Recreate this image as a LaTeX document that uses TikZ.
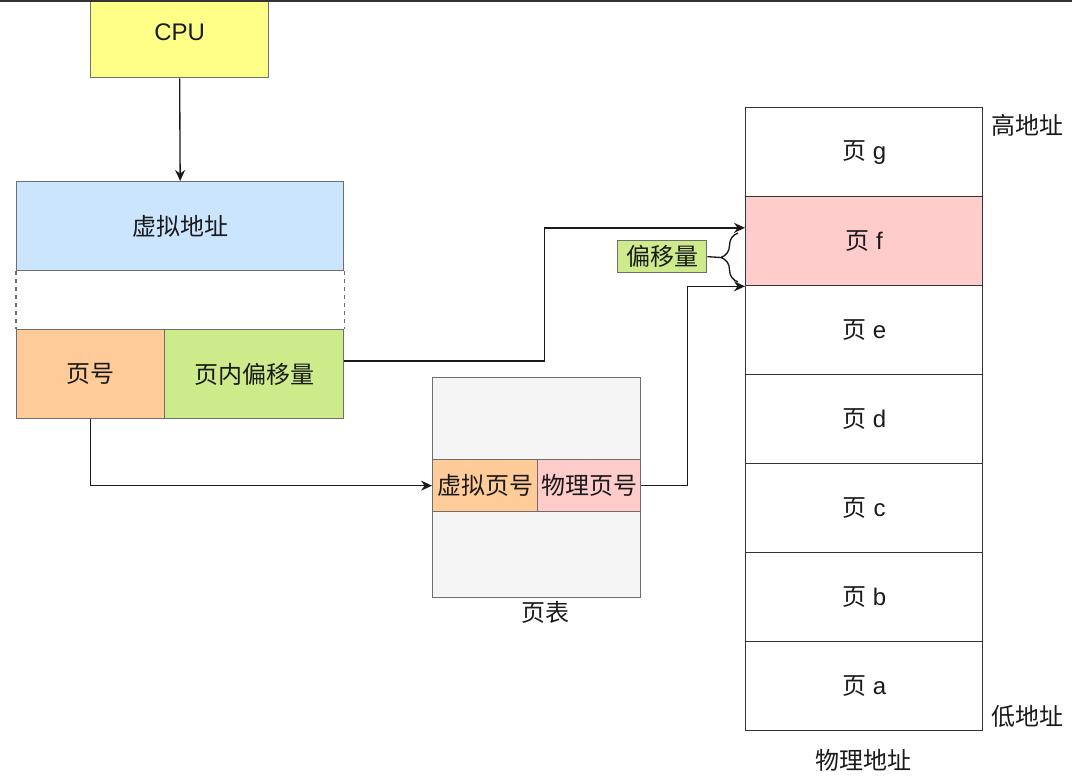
\documentclass[tikz,border=0pt]{standalone}
\usepackage{fontspec}
\setmainfont{Liberation Sans}
\newfontfamily\cjk{Noto Sans CJK SC}
\usetikzlibrary{arrows.meta,decorations.pathreplacing}
\definecolor{cpuy}{HTML}{FFFF88}
\definecolor{vablue}{HTML}{CCE5FF}
\definecolor{orng}{HTML}{FFCC99}
\definecolor{grn}{HTML}{CDEB8B}
\definecolor{pnk}{HTML}{FFCCCC}
\definecolor{ptgray}{HTML}{F5F5F5}
\definecolor{bdlight}{HTML}{6E6E6E}
\definecolor{bddark}{HTML}{333333}
\definecolor{txt}{HTML}{1A1A1A}
\begin{document}
\begin{tikzpicture}[x=0.75pt,y=-0.75pt,
  box/.style={draw=bdlight, line width=1pt, inner sep=0pt, anchor=north west,
    font=\fontsize{18}{22}\selectfont, text=txt},
  membox/.style={box, draw=bddark, fill=white, minimum width=177.75pt, minimum height=66.75pt},
  lbl/.style={inner sep=0pt, font=\fontsize{18}{22}\selectfont\cjk, text=txt},
  arr/.style={draw=txt, line width=1pt, -{Stealth[length=8.25pt,width=7.5pt]}},
  conn/.style={draw=txt, line width=1pt}
]
\useasboundingbox (0,0) rectangle (1072,778);

% CPU
\node[box, fill=cpuy, minimum width=133.5pt, minimum height=67.5pt] (cpu) at (90,-13) {CPU};
\draw[line width=2pt, color=bddark] (0,0.8) -- (1072,0.8);
% virtual address
\node[box, fill=vablue, minimum width=245.25pt, minimum height=66.75pt] (va) at (16,181) {\cjk 虚拟地址};
\node[box, fill=orng, minimum width=111pt, minimum height=66.75pt] (pn) at (16,329) {\cjk 页号};
\node[box, fill=grn, minimum width=134.25pt, minimum height=66.75pt] (off) at (164,329) {\cjk 页内偏移量};
\draw[draw=bdlight, line width=1pt, dashed] (va.south west) -- (pn.north west);
\draw[draw=bdlight, line width=1pt, dashed] (va.south east) -- (off.north east);

% page table
\node[box, fill=ptgray, minimum width=156pt, minimum height=165pt] (pt) at (432,377) {};
\node[box, fill=orng, minimum width=78.75pt, minimum height=39pt] (vpn) at (432,459) {\cjk 虚拟页号};
\node[box, fill=pnk, minimum width=77.25pt, minimum height=39pt] (ppn) at (537,459) {\cjk 物理页号};
\node[lbl] (ptl) at (545,612) {页表};

% physical memory
\node[membox] (pg) at (745,107) {{\cjk 页} g};
\node[membox, fill=pnk] (pf) at (745,196) {{\cjk 页} f};
\node[membox] (pe) at (745,285) {{\cjk 页} e};
\node[membox] (pd) at (745,374) {{\cjk 页} d};
\node[membox] (pc) at (745,463) {{\cjk 页} c};
\node[membox] (pb) at (745,552) {{\cjk 页} b};
\node[membox] (pa) at (745,641) {{\cjk 页} a};
\node[lbl] (hi) at (1027,125) {高地址};
\node[lbl] (lo) at (1027,716) {低地址};
\node[lbl] (pal) at (863,760) {物理地址};

% offset label and brace
\node[box, fill=grn, minimum width=66.75pt, minimum height=24pt] (ofs) at (617,240) {\cjk 偏移量};
\draw[conn, decorate, decoration={brace, amplitude=12.75pt}] (738,282) -- (738,233);
\coordinate (bt) at (721,257.5);
\draw[conn] (ofs.east) -- (bt);

% connectors
\draw[arr] (cpu.south) -- (va.north);
\draw[arr] (pn.south) |- (vpn.west);
\draw[arr] ([yshift=10pt]off.east) -- ++(200,0) |- ([yshift=10pt]pf.west);
\draw[arr] (ppn.east) -- ++(46,0) |- (pf.south west);
\end{tikzpicture}
\end{document}
